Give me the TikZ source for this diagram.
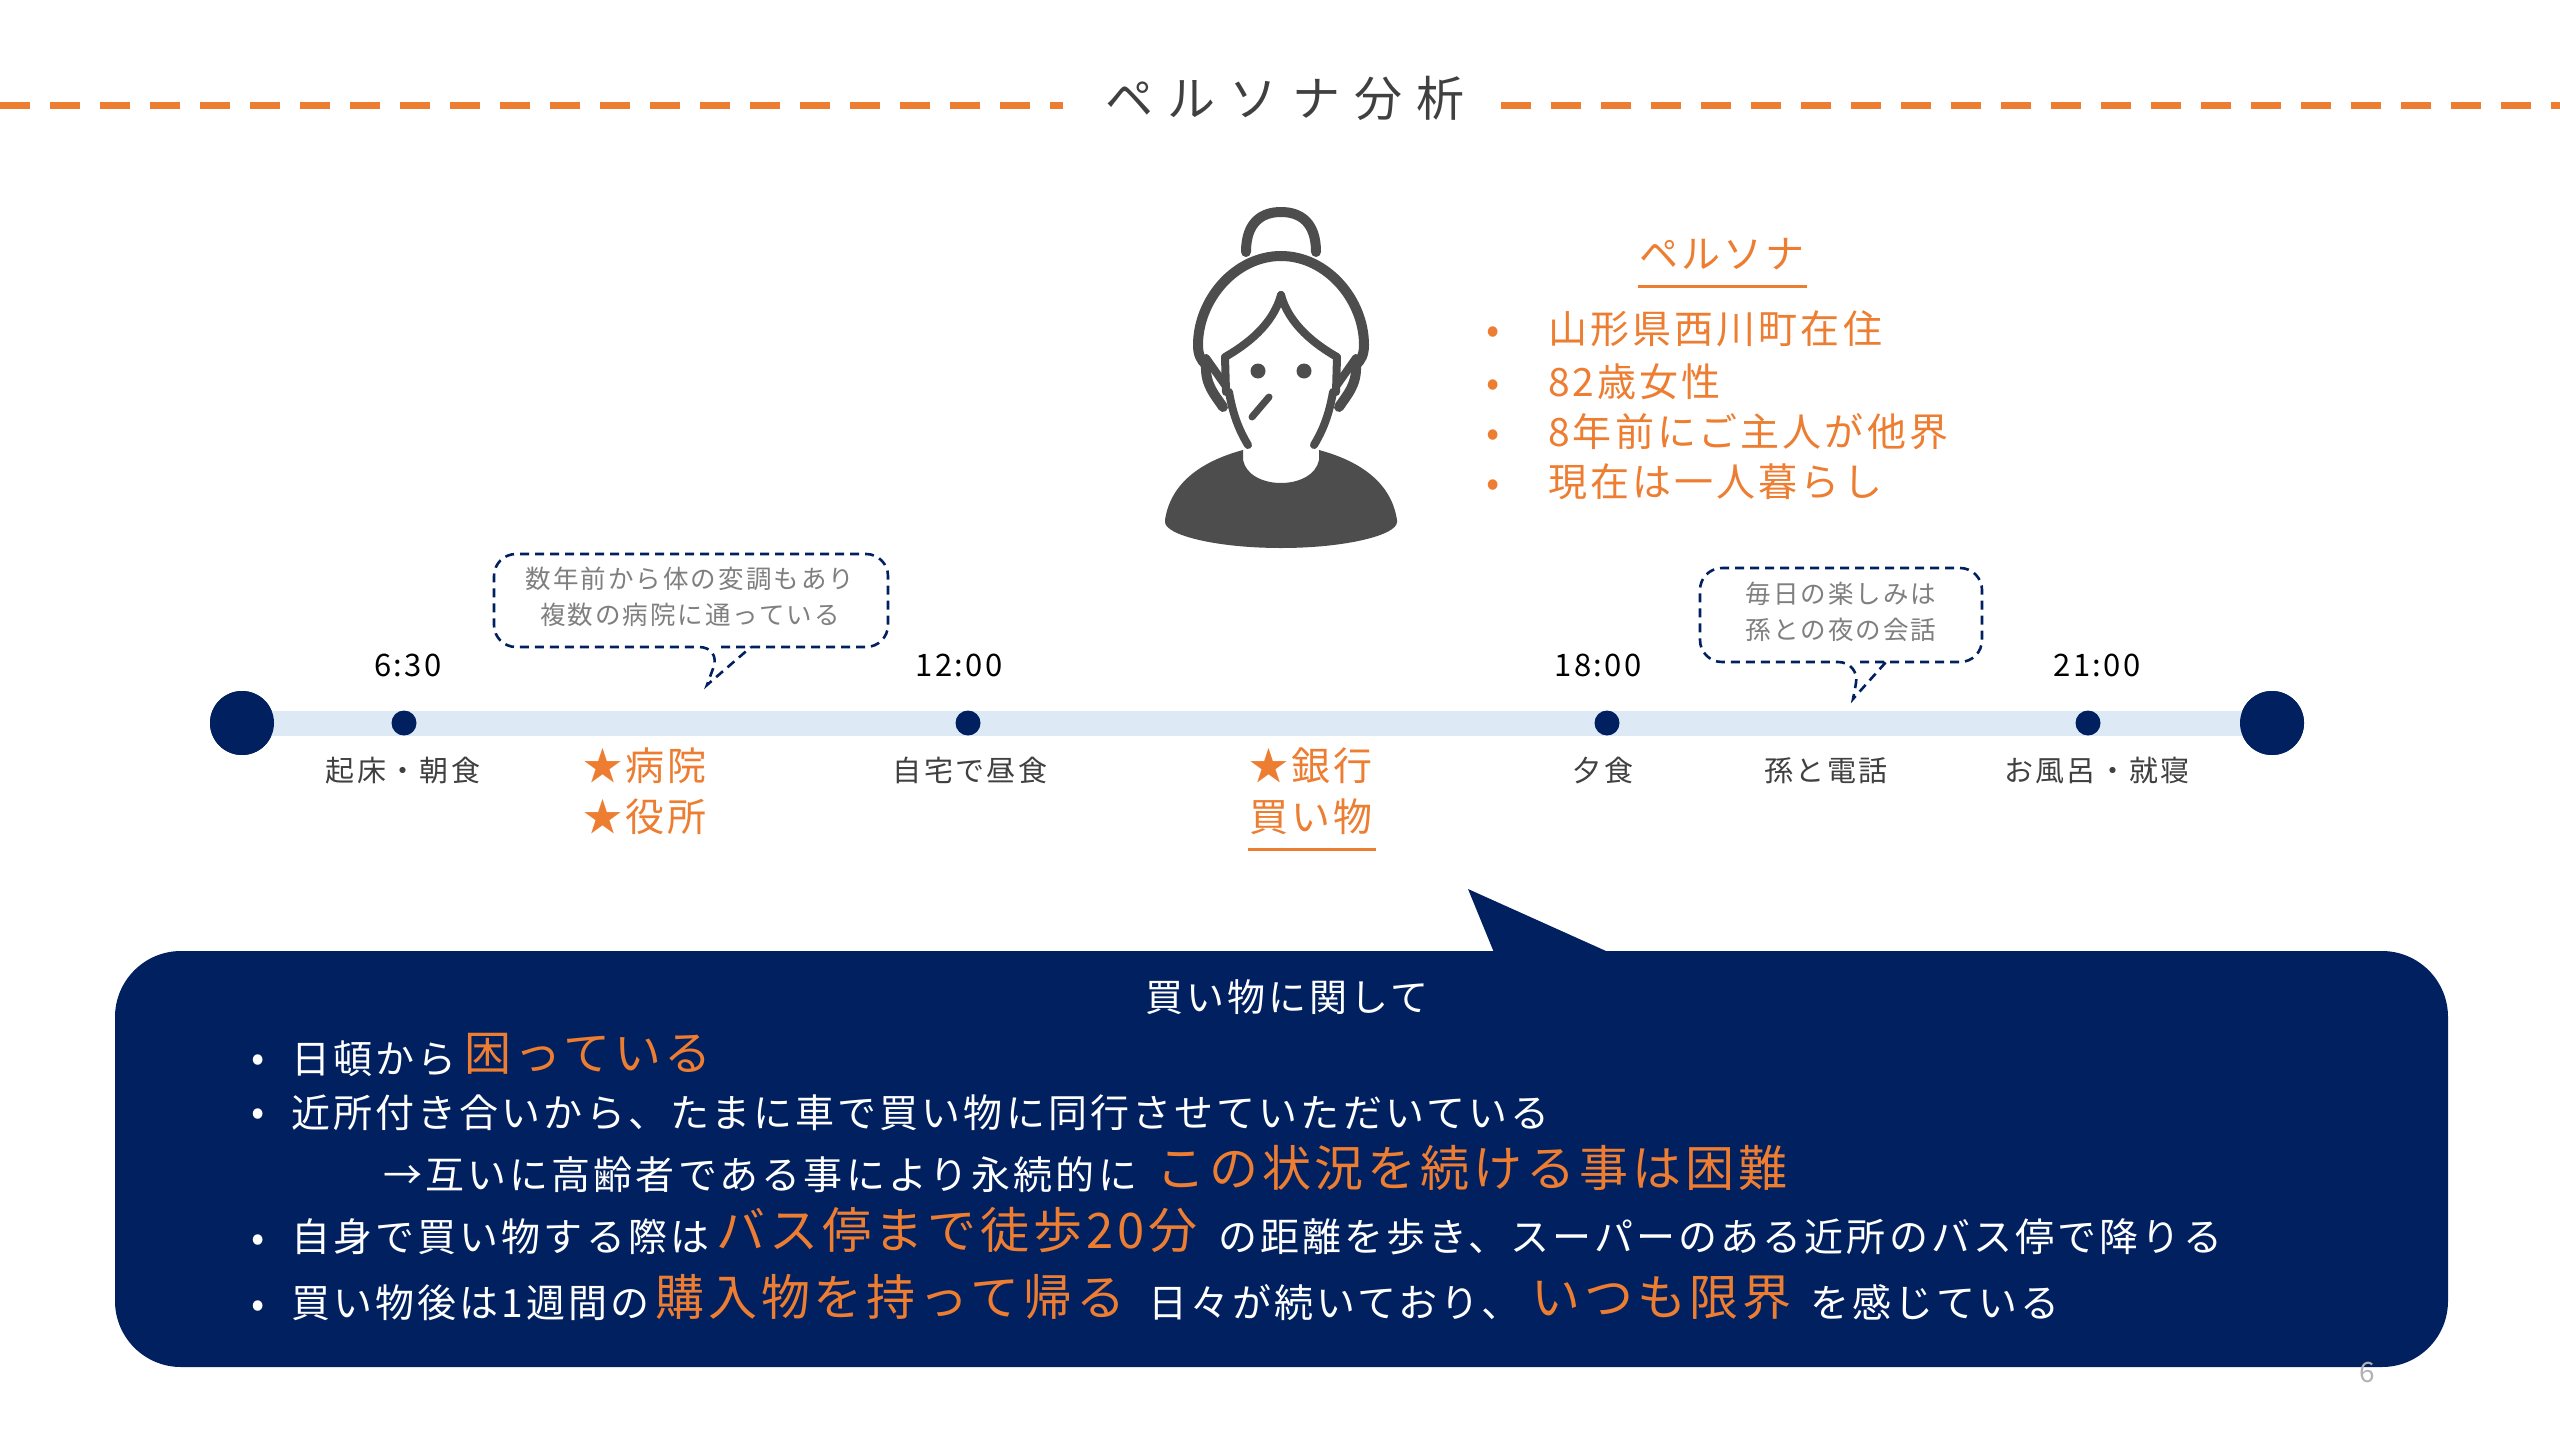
\documentclass[tikz,border=0pt]{standalone}
\usepackage{fontspec}
\setmainfont[LetterSpace=8]{Noto Sans CJK JP}
\newfontfamily\titlefont[LetterSpace=30]{Noto Sans CJK JP}
\definecolor{navy}{HTML}{002060}
\definecolor{accent}{HTML}{ED7D31}
\definecolor{barblue}{HTML}{DEE9F6}
\definecolor{persongray}{HTML}{4D4D4D}
\definecolor{inkgray}{HTML}{404040}
\definecolor{notegray}{HTML}{7F7F7F}
\newcommand{\jpsize}[1]{\fontsize{#1}{#1}\selectfont}
\tikzset{
  txt/.style={inner sep=0pt,text height=.85em,text depth=.12em},
  lft/.style={txt,anchor=west},
  headline/.style={accent,line width=7pt,dash pattern=on 30pt off 20pt},
  persontext/.style={lft,text=accent,font=\jpsize{39}},
  persondot/.style={txt,text=accent,font=\jpsize{39}},
  timelabel/.style={txt,text=black,font=\jpsize{31}},
  daylabel/.style={txt,text=inkgray,font=\jpsize{29}},
  bigevent/.style={txt,text=accent,font=\jpsize{39}},
  notetext/.style={txt,text=notegray,font=\jpsize{25.5}},
  notebox/.style={navy,line width=2.6pt,dashed,dash pattern=on 9pt off 6pt,rounded corners=22pt},
  enddot/.style={circle,fill=navy,inner sep=0pt,minimum size=64pt},
  stopdot/.style={circle,fill=navy,inner sep=0pt,minimum size=25pt},
  wt/.style={lft,text=white,font=\jpsize{39}},
  ot/.style={lft,text=accent,font=\jpsize{49}},
  wdot/.style={txt,text=white,font=\jpsize{39}},
  hairline/.style={persongray,line width=10pt,line cap=round,line join=round},
}
\newcommand{\personside}{
  \draw[hairline] (-35,252) .. controls (-35,222) and (-19,212) .. (0,212);
  \draw[hairline] (0,256) .. controls (-46,256) and (-83,300) .. (-83,345)
     .. controls (-83,355) and (-80,360) .. (-75,365)
     .. controls (-76,385) and (-66,395) .. (-58,407);
  \draw[hairline,line width=8pt] (0,295) .. controls (-8,325) and (-35,345) .. (-56,357) -- (-55,392);
  \draw[hairline,line width=8pt] (-75,358) -- (-56,385);
  \draw[hairline,line width=8pt] (-52,392) .. controls (-48,415) and (-42,430) .. (-33,445);
  \fill[persongray] (-116,520) .. controls (-110,480) and (-75,460) .. (-38,450) -- (-38,460)
     .. controls (-35,475) and (-18,483) .. (0,483) -- (0,548)
     .. controls (-65,548) and (-116,535) .. (-116,522) -- cycle;
}
\begin{document}
\begin{tikzpicture}[x=1pt,y=-1pt]
\useasboundingbox (0,0) rectangle (2560,1440);
\fill[white] (0,0) rectangle (2560,1440);

% header
\node[txt,text=inkgray,font=\titlefont\jpsize{48}] (title) at (1285,113) {ペルソナ分析};
\coordinate (hl) at (0,105);
\coordinate (hm) at (1063,105);
\coordinate (hn) at (1501,105);
\coordinate (hr) at (2560,105);
\draw[headline] (hl) -- (hm);
\draw[headline] (hn) -- (hr);

% person
\begin{scope}[shift={(1281,0)}]
  \personside
  \begin{scope}[xscale=-1]\personside\end{scope}
\end{scope}
\fill[persongray] (1258,371) circle (7.5);
\fill[persongray] (1304,371) circle (7.5);
\draw[hairline,line width=7pt] (1269,397) -- (1252,417);

% persona text
\node[txt,text=accent,font=\jpsize{39}] (ptitle) at (1722,265) {ペルソナ};
\draw[accent,line width=3pt] (1638,286) -- (1807,286);
\node[persondot] (b1) at (1493,340) {•};
\node[persondot] (b2) at (1493,393) {•};
\node[persondot] (b3) at (1493,443) {•};
\node[persondot] (b4) at (1493,493) {•};
\node[persontext] (p1) at (1548,340) {山形県西川町在住};
\node[persontext] (p2) at (1548,393) {82歳女性};
\node[persontext] (p3) at (1548,443) {8年前にご主人が他界};
\node[persontext] (p4) at (1548,493) {現在は一人暮らし};

% timeline
\node[enddot] (start) at (242,723) {};
\node[enddot] (finish) at (2272,723) {};
\begin{scope}[on background layer/.try]
\end{scope}
\fill[barblue] (242,710.5) rectangle (2272,735.5);
\node[enddot] at (start) {};
\node[enddot] at (finish) {};
\node[stopdot] (t1) at (404,723) {};
\node[stopdot] (t2) at (968,723) {};
\node[stopdot] (t3) at (1607,723) {};
\node[stopdot] (t4) at (2088,723) {};
\node[timelabel] (l1) at (408,673) {6:30};
\node[timelabel] (l2) at (959,673) {12:00};
\node[timelabel] (l3) at (1598,673) {18:00};
\node[timelabel] (l4) at (2097,673) {21:00};
\node[daylabel] (d1) at (403,778) {起床・朝食};
\node[daylabel] (d2) at (970,778) {自宅で昼食};
\node[daylabel] (d3) at (1603,778) {夕食};
\node[daylabel] (d4) at (1826,778) {孫と電話};
\node[daylabel] (d5) at (2097,778) {お風呂・就寝};
\node[bigevent] (e1) at (645,777) {★病院};
\node[bigevent] (e2) at (645,828) {★役所};
\node[bigevent] (e3) at (1311,777) {★銀行};
\node[bigevent] (e4) at (1311,828) {買い物};
\draw[accent,line width=3pt] (1248,849) -- (1376,849);

% notes
\draw[notebox] (721,647) -- (888,647) -- (888,554) -- (494,554) -- (494,647) -- (721,647)
   [rounded corners=0pt] -- (707,685) -- (751,647);
\node[notetext] (n1) at (690,585) {数年前から体の変調もあり};
\node[notetext] (n2) at (690,621) {複数の病院に通っている};
\draw[notebox] (1860,662) -- (1982,662) -- (1982,568) -- (1700,568) -- (1700,662) -- (1860,662)
   [rounded corners=0pt] -- (1853,699) -- (1886,662);
\node[notetext] (n3) at (1841,600) {毎日の楽しみは};
\node[notetext] (n4) at (1841,636) {孫との夜の会話};

% big bubble
\fill[navy,rounded corners=66pt] (115,951) rectangle (2448,1367);
\fill[navy] (1468,889) -- (1495,955) -- (1606,955) -- (1606,951) -- cycle;

\node[txt,text=white,font=\jpsize{38}] (head) at (1287,1008) {買い物に関して};

\node[wdot] (w1) at (258,1068) {•};
\node[wt] (a1) at (291,1070) {日頓から};
\node[ot,font=\jpsize{47}] (a2) at (464,1067) {困っている};

\node[wdot] (w2) at (258,1122) {•};
\node[wt] (b1t) at (291,1124) {近所付き合いから、たまに車で買い物に同行させていただいている};

\node[wt] (c1) at (383,1186) {→互いに高齢者である事により永続的に};
\node[ot] (c2) at (1156,1183) {この状況を続ける事は困難};

\node[wdot] (w3) at (258,1248) {•};
\node[wt] (f1) at (291,1248) {自身で買い物する際は};
\node[ot] (f2) at (716,1245) {バス停まで徒歩20分};
\node[wt] (f3) at (1218,1248) {の距離を歩き、スーパーのある近所のバス停で降りる};

\node[wdot] (w4) at (258,1314) {•};
\node[wt] (g1) at (291,1314) {買い物後は1週間の};
\node[ot] (g2) at (655,1312) {購入物を持って帰る};
\node[wt] (g3) at (1148,1314) {日々が続いており、};
\node[ot] (g4) at (1531,1312) {いつも限界};
\node[wt] (g5) at (1810,1314) {を感じている};

\node[txt,text=notegray!60,font=\jpsize{28}] (pg) at (2367,1379) {6};
\end{tikzpicture}
\end{document}
